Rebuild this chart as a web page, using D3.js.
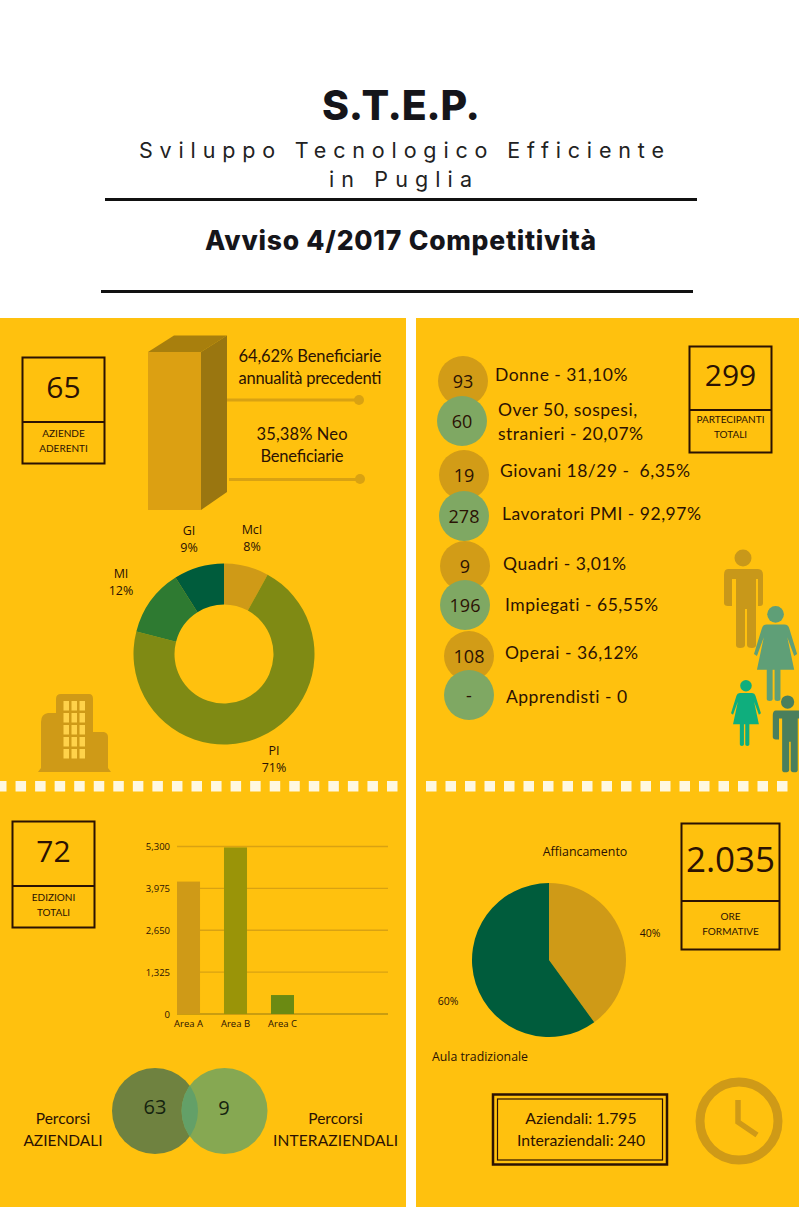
<!DOCTYPE html>
<html><head><meta charset="utf-8">
<script src="https://cdnjs.cloudflare.com/ajax/libs/d3/7.8.5/d3.min.js"></script>
<style>html,body{margin:0;padding:0;background:#fff}svg{display:block}text{white-space:pre}</style>
</head><body><svg id="c" width="799" height="1207"></svg>
<script>
// ---------- data ----------
const donutLabels = ["McI","PI","MI","GI"];
const donutValues = [8,71,12,9];
const donutColors = ["#cf9a17","#7f8a14","#2e7a31","#005c3c"];
const pieLabels = ["Affiancamento","Aula tradizionale"];
const pieValues = [40,60];
const pieColors = ["#cf9a17","#005c3c"];
const barCategories = ["Area A","Area B","Area C"];
const barValues = [4190,5270,600];
const barColors = ["#cf9a17","#9a9408","#6b8a12"];
const barTicks = [0,1325,2650,3975,5300];
const participantCounts = ["93","60","19","278","9","196","108","-"];
const participantLabels = [["Donne - 31,10%"],["Over 50, sospesi,","stranieri - 20,07%"],["Giovani 18/29 -  6,35%"],["Lavoratori PMI - 92,97%"],["Quadri - 3,01%"],["Impiegati - 65,55%"],["Operai - 36,12%"],["Apprendisti - 0"]];
const vennValues = ["63","9"];

// ---------- layout ----------
const INK="#2b1203", GOLD="#ffc10e", OCH="#cf9a17", SANS="Lato, 'Noto Sans', sans-serif", CH="'Open Sans', sans-serif", HEAD="Inter, sans-serif";
const svg=d3.select("#c");
function T(x,y,s,size,o={}){const t=svg.append("text").attr("x",x).attr("y",y).text(s)
  .attr("font-family",o.f||SANS).attr("font-size",size).attr("fill",o.c||INK)
  .attr("font-weight",o.w||400).attr("text-anchor",o.a||"middle")
  .attr("letter-spacing",o.ls||0);
  if(o.len) t.attr("textLength",o.len).attr("lengthAdjust","spacing");
  return t;}
function R(x,y,w,h,fill,o={}){return svg.append("rect").attr("x",x).attr("y",y).attr("width",w).attr("height",h)
  .attr("fill",fill).attr("stroke",o.s||"none").attr("stroke-width",o.sw||0);}
function L(x1,y1,x2,y2,c,w){return svg.append("line").attr("x1",x1).attr("y1",y1).attr("x2",x2).attr("y2",y2).attr("stroke",c).attr("stroke-width",w);}

// panels
R(0,318,406,889,GOLD); R(416,318,383,889,GOLD);
d3.range(21).forEach(i=>R(-4+19.55*i,781,10.5,10.5,"#fff8e0"));
d3.range(19).forEach(i=>R(426+19.5*i,781,10.5,10.5,"#fff8e0"));

// header
T(401,120,"S.T.E.P.",41,{f:HEAD,w:800,c:"#15151a",len:158});
T(401.5,158,"Sviluppo Tecnologico Efficiente",21.5,{f:HEAD,c:"#222",len:525});
T(400.5,187,"in Puglia",21.5,{f:HEAD,c:"#222",len:143});
L(105,199.5,697,199.5,"#111",3);
T(400.5,250,"Avviso 4/2017 Competitività",26.5,{f:HEAD,w:800,c:"#15151a",len:391});
L(101,291.5,693,291.5,"#111",3);

// stat boxes
function box(x,y,w,h,split,val,vs,vy,lines,ly){
  R(x,y,w,h,"none",{s:INK,sw:2}); L(x,split,x+w,split,INK,2);
  T(x+w/2,vy,val,vs,{f:CH});
  lines.forEach((l,i)=>T(x+w/2,ly+i*14.5,l,10));
}
box(22.5,357.5,82,106,422,"65",30,398,["AZIENDE","ADERENTI"],437);
box(12.5,821.5,82,106,886,"72",30,862,["EDIZIONI","TOTALI"],901);
box(689.5,346.5,82,106,410,"299",30,386,["PARTECIPANTI","TOTALI"],423);
box(681.5,823.5,98,126,901,"2.035",35,872,["ORE","FORMATIVE"],920);

// 3D column
svg.append("path").attr("d","M148 352L174 335.5L227 335.5L201 352Z").attr("fill","#a87f0d");
R(148,352,53,158,"#dca012");
svg.append("path").attr("d","M201 352L227 335.5L227 492L201 510Z").attr("fill","#9a7610");
L(227,400,359,400,"#d9a212",3); svg.append("circle").attr("cx",359).attr("cy",400).attr("r",5).attr("fill","#d9a212");
L(229,479.5,360,479.5,"#d9a212",3); svg.append("circle").attr("cx",360).attr("cy",479).attr("r",5).attr("fill","#d9a212");
T(310,362,"64,62% Beneficiarie",16.5,{len:143}); T(310,384,"annualità precedenti",16.5,{len:143});
T(302,440,"35,38% Neo",16.5,{len:91}); T(302,462,"Beneficiarie",16.5,{len:83});

// donut
const pieGen=d3.pie().sort(null);
const donutG=svg.append("g").attr("transform","translate(224,654)");
const donutArc=d3.arc().innerRadius(49.5).outerRadius(90.5);
donutG.selectAll("path").data(pieGen(donutValues)).join("path").attr("d",donutArc).attr("fill",(d,i)=>donutColors[i]);
const donutLabelPos=[[252,534],[274,755],[121,578],[189,535]];
donutLabels.forEach((l,i)=>{const p=donutLabelPos[i];
  T(p[0],p[1],l,12.5,{f:CH}); T(p[0],p[1]+17,donutValues[i]+"%",12.5,{f:CH});});

// building
const bld=svg.append("g").attr("fill",OCH);
bld.append("path").attr("d","M38 772L41 768L41 722Q41 714 48 713L56 713L56 699Q56 694 61 694L89 694Q93 694 93 699L93 732L104 732Q108 733 108 737L108 768L111 772Z");
const winX=d3.range(3), winY=d3.range(5);
winY.forEach(r=>winX.forEach(c=>R(63.5+c*8,701+r*12,5.5,9.5,"#ffd24a")));

// participants
const bubblePos=[[463,381],[462,421],[464,475],[464,516],[465,566],[465,605],[469,656],[469,695]];
const labelPos=[[495,381],[498,416],[500,477],[502,520],[503,570],[505,611],[505,659],[506,703]];
const bubbleFill=(i)=>i%2?"#7fa863":"#d29c17";
participantCounts.forEach((v,i)=>{const p=bubblePos[i];
  svg.append("circle").attr("cx",p[0]).attr("cy",p[1]).attr("r",25).attr("fill",bubbleFill(i));
  T(p[0],p[1]+6.5,v,18,{f:CH});
  participantLabels[i].forEach((l,j)=>T(labelPos[i][0],labelPos[i][1]+j*24,l,17.5,{a:"start",ls:0.5}));
});

// people
function man(x,y,s,c){const g=svg.append("g").attr("transform",`translate(${x},${y}) scale(${s})`).attr("fill",c);
  g.append("circle").attr("cx",20).attr("cy",9).attr("r",8.5);
  g.append("path").attr("d","M5 20L35 20Q40 20 40 26L40 54Q40 57 37 57L35 57L35 30L33 30L33 96Q33 99 29 99Q24 99 24 96L24 60L22 60L22 96Q22 99 17 99Q13 99 13 96L13 30L9 30L9 57L5 57Q1 57 1 54L1 26Q1 20 5 20Z");}
function woman(x,y,s,c){const g=svg.append("g").attr("transform",`translate(${x},${y}) scale(${s})`).attr("fill",c);
  g.append("circle").attr("cx",22).attr("cy",8.5).attr("r",8.5);
  g.append("path").attr("d","M13 19L31 19Q35 19 36 23L44 49L41 51L34 32L41 65L27 65L27 95Q27 97 24 97Q21 97 21 95L21 65L19 65L19 95Q19 97 16 97Q13 97 13 95L13 65L3 65L10 32L3 51L0 49L8 23Q9 19 13 19Z");}
man(723,549,1,"#c8981a");
woman(754,606,0.98,"#5f9f77");
woman(731,680,0.68,"#0fae7d");
man(772,695,0.78,"#4a7f5c");

// bar chart
const bx=d3.scaleBand().domain(barCategories).range([177,294]).paddingInner(0.51).paddingOuter(0);
const by=d3.scaleLinear().domain([0,5300]).range([1014,846.5]);
const barG=svg.append("g");
barG.append("g").attr("transform","translate(176,0)")
  .call(d3.axisLeft(by).tickValues(barTicks).tickSize(0).tickPadding(6).tickFormat(d3.format(",")))
  .call(g=>g.select(".domain").remove())
  .call(g=>g.selectAll("text").attr("font-family",CH).attr("font-size",9.5).attr("fill",INK));
barG.append("g").selectAll("line").data(barTicks).join("line").attr("x1",177).attr("x2",388)
  .attr("y1",d=>by(d)).attr("y2",d=>by(d)).attr("stroke",d=>d?"#d9a212":"#b89012").attr("stroke-width",1.3);
barG.append("g").selectAll("rect").data(barValues).join("rect")
  .attr("x",(d,i)=>bx(barCategories[i])).attr("width",bx.bandwidth()).attr("y",d=>by(d)).attr("height",d=>by(0)-by(d))
  .attr("fill",(d,i)=>barColors[i]);
barCategories.forEach(c=>T(bx(c)+bx.bandwidth()/2,1027,c,9.5,{f:CH}));

// venn
svg.append("defs").append("clipPath").attr("id","vl").append("circle").attr("cx",155).attr("cy",1111).attr("r",43);
svg.append("circle").attr("cx",155).attr("cy",1111).attr("r",43).attr("fill","#6f8240");
svg.append("circle").attr("cx",224.5).attr("cy",1111).attr("r",43).attr("fill","#86a852");
svg.append("circle").attr("cx",224.5).attr("cy",1111).attr("r",43).attr("fill","#63a068").attr("clip-path","url(#vl)");
T(155,1114,vennValues[0],20,{f:CH,c:"#15230f"}); T(224,1115,vennValues[1],20,{f:CH,c:"#15230f"});
T(63,1124,"Percorsi",15.5); T(63,1146,"AZIENDALI",15.5);
T(335.5,1124,"Percorsi",15.5); T(335.5,1146,"INTERAZIENDALI",15.5,{len:125});

// pie
const pieG=svg.append("g").attr("transform","translate(549,960)");
const pieArc=d3.arc().innerRadius(0).outerRadius(77);
pieG.selectAll("path").data(pieGen(pieValues)).join("path").attr("d",pieArc).attr("fill",(d,i)=>pieColors[i]);
T(585,856,pieLabels[0],12.4,{f:CH});
T(480,1061,pieLabels[1],12.3,{f:CH});
T(650,937,"40%",10.5,{f:CH});
T(448,1005,"60%",10.5,{f:CH});

// hours box
R(493,1094.5,174,70,"none",{s:INK,sw:2.5});
R(497.5,1099,165,61,"none",{s:INK,sw:1.2});
T(581,1124,"Aziendali: 1.795",15.8); T(581,1146,"Interaziendali: 240",15.8);

// clock
svg.append("circle").attr("cx",739).attr("cy",1121).attr("r",39).attr("fill","none").attr("stroke",OCH).attr("stroke-width",9);
svg.append("path").attr("d","M738 1100L738 1122L757 1135").attr("fill","none").attr("stroke",OCH).attr("stroke-width",5.5);
</script></body></html>
